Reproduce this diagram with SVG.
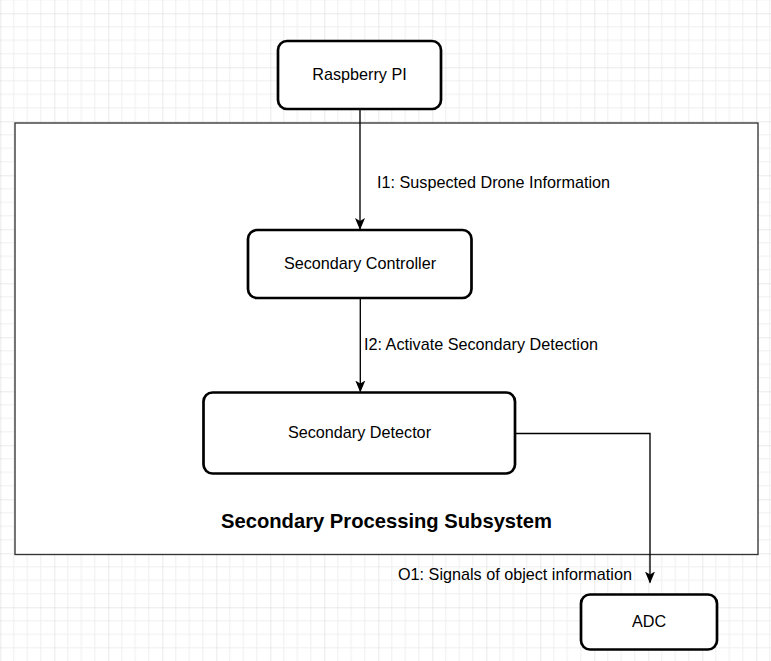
<svg xmlns="http://www.w3.org/2000/svg" width="771" height="661" viewBox="0 0 771 661">
<style>
.node{fill:#fff;stroke:#000;stroke-width:2.7}
.lbl{font-family:"Liberation Sans",Arial,sans-serif;font-size:16.2px;fill:#000}
.mid{text-anchor:middle;dominant-baseline:central}
.edge{fill:none;stroke:#000;stroke-width:1.35}
</style>
<defs>
<pattern id="grid" patternUnits="userSpaceOnUse" x="0.3" y="13.3" width="54" height="54">
<path d="M13.5 0V54M27 0V54M40.5 0V54M0 13.5H54M0 27H54M0 40.5H54" stroke="#efefef" stroke-width="1" fill="none"/>
<path d="M0 0V54M0 0H54" stroke="#d6d6d6" stroke-width="1" fill="none"/>
</pattern>
<marker id="arr" viewBox="0 0 12 10" refX="11" refY="5" markerWidth="12" markerHeight="10" markerUnits="userSpaceOnUse" orient="auto">
<path d="M0 0L12 5L0 10L3 5Z" fill="#000"/>
</marker>
</defs>
<rect width="771" height="661" fill="#fff"/>
<rect width="771" height="661" fill="url(#grid)"/>
<g id="subsystem">
<rect x="15" y="123" width="743" height="431.5" fill="#fff" stroke="#333" stroke-width="1.35"/>
<text class="lbl mid" x="386.5" y="520.5" style="font-weight:bold;font-size:20.2px">Secondary Processing Subsystem</text>
</g>
<g id="connectors">
<path class="edge" d="M360 109V229" marker-end="url(#arr)"/>
<path class="edge" d="M360.3 298V391.5" marker-end="url(#arr)"/>
<path class="edge" d="M515 433.5H650V582.5" marker-end="url(#arr)"/>
<text class="lbl" x="377" y="187.5">I1: Suspected Drone Information</text>
<text class="lbl" x="364" y="349.5">I2: Activate Secondary Detection</text>
<text class="lbl" x="398" y="579.5">O1: Signals of object information</text>
</g>
<g id="raspberry-pi">
<rect class="node" x="278" y="41" width="163" height="68" rx="9"/>
<text class="lbl mid" x="359.5" y="74">Raspberry PI</text>
</g>
<g id="secondary-controller">
<rect class="node" x="248" y="230" width="223.5" height="68" rx="9"/>
<text class="lbl mid" x="360" y="263">Secondary Controller</text>
</g>
<g id="secondary-detector">
<rect class="node" x="203.5" y="392.5" width="311.5" height="81" rx="9"/>
<text class="lbl mid" x="359.5" y="432">Secondary Detector</text>
</g>
<g id="adc">
<rect class="node" x="581" y="594.5" width="136" height="55" rx="9"/>
<text class="lbl mid" x="649" y="621">ADC</text>
</g>
</svg>
